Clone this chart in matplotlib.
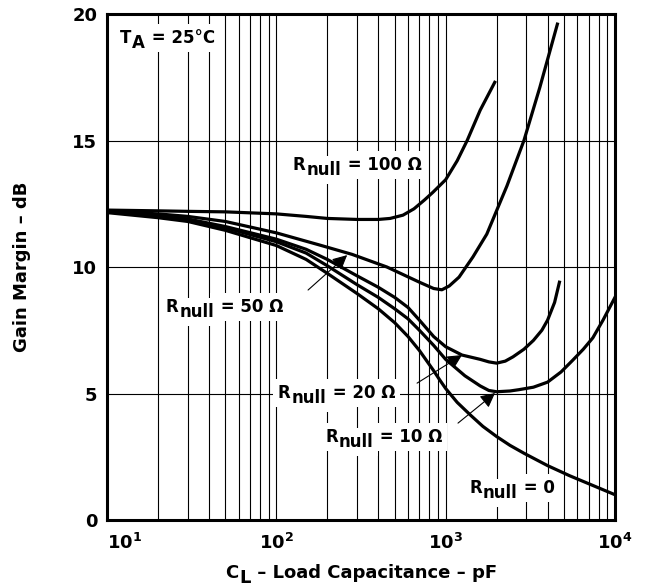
import matplotlib
matplotlib.use('Agg')
import matplotlib.pyplot as plt

plt.rcParams['font.family'] = ['DejaVu Sans']
plt.rcParams['font.weight'] = 'bold'
plt.rcParams['mathtext.fontset'] = 'custom'
plt.rcParams['mathtext.rm'] = 'DejaVu Sans:bold'
plt.rcParams['mathtext.it'] = 'DejaVu Sans:bold'
plt.rcParams['mathtext.bf'] = 'DejaVu Sans:bold'

# gain margin (dB) vs load capacitance (pF)
c_r0 = [10, 20, 30, 50, 100, 150, 200, 300, 400, 500, 600, 700, 850, 920, 1000, 1170, 1400, 1660, 2000, 2400, 2900, 4000, 5400, 7500, 10000]
g_r0 = [12.15, 11.95, 11.8, 11.45, 10.85, 10.3, 9.75, 8.95, 8.35, 7.8, 7.25, 6.7, 5.9, 5.55, 5.2, 4.65, 4.15, 3.7, 3.3, 2.95, 2.64, 2.15, 1.75, 1.35, 1.0]

c_r10 = [10, 20, 30, 50, 100, 150, 200, 300, 400, 500, 600, 700, 850, 1000, 1300, 1600, 1800, 2000, 2400, 2700, 3300, 4000, 4800, 5600, 6500, 7400, 8500, 10000]
g_r10 = [12.2, 12.0, 11.85, 11.55, 11.0, 10.55, 10.05, 9.3, 8.8, 8.35, 7.95, 7.5, 6.9, 6.35, 5.7, 5.3, 5.12, 5.07, 5.1, 5.15, 5.25, 5.45, 5.85, 6.3, 6.75, 7.2, 7.9, 8.8]

c_r20 = [10, 20, 30, 50, 100, 150, 200, 300, 400, 500, 600, 700, 850, 1000, 1250, 1600, 1800, 2000, 2250, 2500, 2900, 3300, 3700, 4000, 4400, 4700]
g_r20 = [12.2, 12.05, 11.9, 11.6, 11.1, 10.7, 10.3, 9.65, 9.2, 8.8, 8.4, 7.9, 7.25, 6.85, 6.52, 6.35, 6.25, 6.2, 6.28, 6.45, 6.75, 7.1, 7.5, 7.9, 8.6, 9.4]

c_r50 = [10, 20, 30, 50, 100, 180, 280, 450, 700, 850, 950, 1050, 1200, 1450, 1750, 2300, 2900, 3600, 4570]
g_r50 = [12.2, 12.1, 12.0, 11.8, 11.35, 10.87, 10.5, 10.0, 9.4, 9.15, 9.1, 9.25, 9.6, 10.4, 11.3, 13.2, 15.0, 17.1, 19.6]

c_r100 = [10, 20, 30, 50, 100, 150, 200, 300, 400, 470, 560, 650, 750, 840, 1000, 1170, 1340, 1600, 1950]
g_r100 = [12.25, 12.22, 12.2, 12.18, 12.1, 12.0, 11.92, 11.88, 11.88, 11.92, 12.05, 12.3, 12.65, 12.95, 13.45, 14.2, 15.0, 16.2, 17.3]

x_ticks = [10, 100, 1000, 10000]
x_tick_labels = [r'$10^{1}$', r'$10^{2}$', r'$10^{3}$', r'$10^{4}$']
y_ticks = [0, 5, 10, 15, 20]

fig = plt.figure(figsize=(6.5, 5.86), dpi=100)
ax = fig.add_axes([0.1646, 0.1126, 0.7815, 0.8635])

for c, g in [(c_r0, g_r0), (c_r10, g_r10), (c_r20, g_r20), (c_r50, g_r50), (c_r100, g_r100)]:
    ax.plot(c, g, color='black', lw=2.3, zorder=4)

ax.set_xscale('log')
ax.set_xlim(10, 10000)
ax.set_ylim(0, 20)
ax.set_xticks(x_ticks)
ax.set_xticklabels(x_tick_labels)
ax.set_yticks(y_ticks)
ax.set_yticklabels([str(v) for v in y_ticks])
ax.tick_params(which='both', length=0, labelsize=13)
ax.tick_params(axis='y', pad=7)
ax.tick_params(axis='x', pad=9)
ax.get_xticklabels()[0].set_ha('left')

ax.grid(True, which='both', axis='x', color='black', lw=0.8)
ax.grid(True, which='major', axis='y', color='black', lw=0.8)
ax.set_axisbelow(True)
for s in ax.spines.values():
    s.set_linewidth(2.2)
    s.set_zorder(5)


def chain(x, y, parts, coords, size, box=True, rotation=0):
    # text pieces side by side; a piece with dy < 0 is a full size subscript
    # first pass lays white boxes (cuts the grid), second pass the black text
    for bg in ([True, False] if box else [False]):
        kw = dict(fontsize=size, fontweight='bold', zorder=3)
        if bg:
            kw.update(color='white', bbox=dict(fc='white', ec='none', pad=3.5))
        else:
            kw.update(color='black')
        prev = ax.annotate(parts[0][0], xy=(x, y), xycoords=coords,
                           ha='left', va='baseline', **kw)
        last_dy = parts[0][1]
        for s, dy in parts[1:]:
            prev = ax.annotate(s, xy=(1, 0), xycoords=prev,
                               xytext=(0.6, dy - last_dy), textcoords='offset points',
                               ha='left', va='bottom', **kw)
            last_dy = dy


sub = -3.5
chain(11.9, 18.85, [('T', 0), ('A', sub), (' = 25°C', 0)], 'data', 12)
chain(125, 13.83, [('R', 0), ('null', sub), (' = 100 Ω', 0)], 'data', 12)
chain(22.3, 8.22, [('R', 0), ('null', sub), (' = 50 Ω', 0)], 'data', 12)
chain(102, 4.82, [('R', 0), ('null', sub), (' = 20 Ω', 0)], 'data', 12)
chain(194, 3.08, [('R', 0), ('null', sub), (' = 10 Ω', 0)], 'data', 12)
chain(1374, 1.07, [('R', 0), ('null', sub), (' = 0', 0)], 'data', 12)

# axis titles
chain(225 / 650, 1 - 578 / 586, [('C', 0), ('L', sub), (' – Load Capacitance – pF', 0)],
      'figure fraction', 13, box=False)
fig.text(22 / 650, 1 - 267 / 586, 'Gain Margin – dB', rotation=90, fontsize=13,
         fontweight='bold', ha='center', va='center')

arrow = dict(arrowstyle='-|>', color='black', lw=0.8, mutation_scale=22, shrinkA=0, shrinkB=0)
ax.annotate('', xy=(262, 10.47), xytext=(154, 9.09), arrowprops=arrow, zorder=6)
ax.annotate('', xy=(1250, 6.52), xytext=(678, 5.41), arrowprops=arrow, zorder=6)
ax.annotate('', xy=(1958, 5.02), xytext=(1183, 3.83), arrowprops=arrow, zorder=6)

fig.savefig('out.png', dpi=100)
